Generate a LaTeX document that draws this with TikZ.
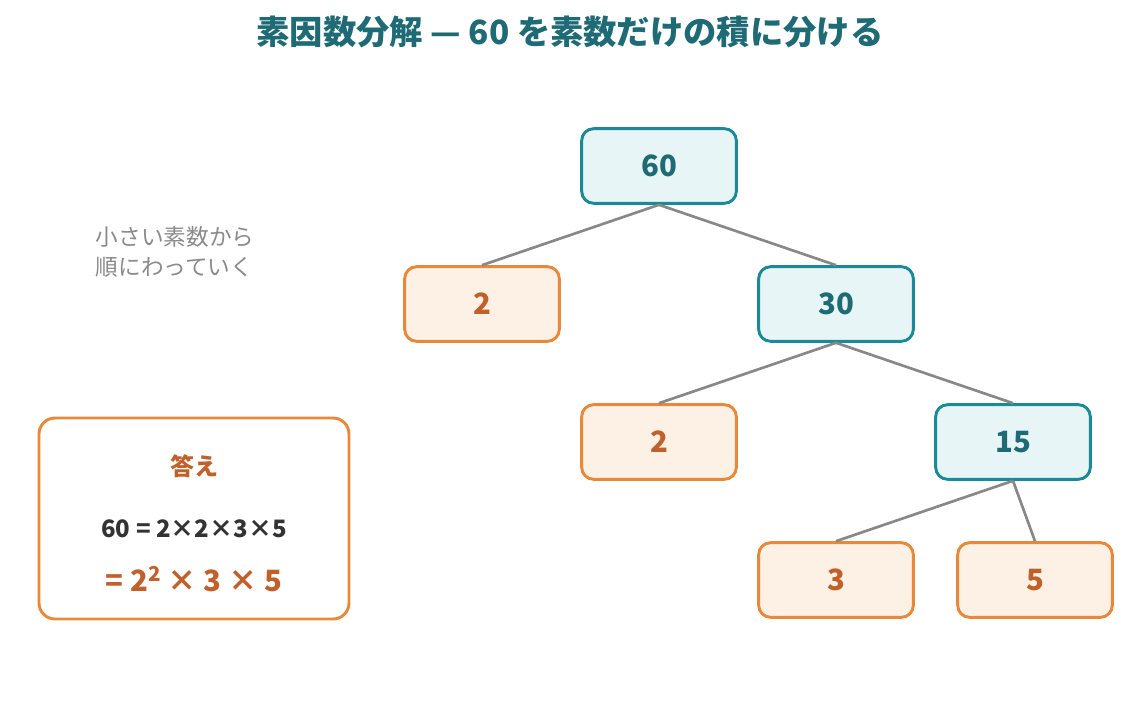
\documentclass[tikz,border=0pt]{standalone}
\usepackage{fontspec}
\setmainfont{Noto Sans CJK JP}
\newfontfamily\jpbold{Noto Sans CJK JP}[FakeBold=0]
\usetikzlibrary{positioning}
\definecolor{titleteal}{HTML}{1F6B75}
\definecolor{boxteal}{HTML}{1A8A96}
\definecolor{fillteal}{HTML}{E8F5F6}
\definecolor{boxorange}{HTML}{E8883A}
\definecolor{fillorange}{HTML}{FDF0E4}
\definecolor{textorange}{HTML}{C0602A}
\definecolor{edgegray}{HTML}{888888}
\definecolor{notegray}{HTML}{8A8A8A}
\definecolor{darktext}{HTML}{333333}
\tikzset{
  box/.style={rounded corners=9pt,line width=2.2pt,minimum width=116pt,minimum height=56pt,
    font=\fontsize{22}{24}\selectfont\bfseries},
  composite/.style={box,draw=boxteal,fill=fillteal,text=titleteal},
  prime/.style={box,draw=boxorange,fill=fillorange,text=textorange},
  branch/.style={draw=edgegray,line width=2pt}
}
\begin{document}
\begin{tikzpicture}[x=0.75pt,y=-0.75pt]
  \useasboundingbox (0,0) rectangle (1140,724);
  % title
  \node (title) at (570,32) {\fontsize{25}{28}\selectfont\bfseries\color{titleteal}素因数分解 — 60 を素数だけの積に分ける};

  % tree
  \node[composite] (n60) at (659,166) {60};
  \node[prime] (p2a) at (482,304) {2};
  \node[composite] (n30) at (836,304) {30};
  \node[prime] (p2b) at (659,442) {2};
  \node[composite] (n15) at (1013,442) {15};
  \node[prime] (p3) at (836,580) {3};
  \node[prime] (p5) at (1035,580) {5};

  \draw[branch] (n60.south) -- (p2a.north);
  \draw[branch] (n60.south) -- (n30.north);
  \draw[branch] (n30.south) -- (p2b.north);
  \draw[branch] (n30.south) -- (n15.north);
  \draw[branch] (n15.south) -- (p3.north);
  \draw[branch] (n15.south) -- (p5.north);

  % side note
  \node[anchor=west,align=left,text=notegray,font=\fontsize{17}{22}\selectfont] (hint) at (91,252)
    {小さい素数から\\順にわっていく};

  % answer box
  \draw[draw=boxorange,line width=2.2pt,rounded corners=12pt,fill=white] (39,418) rectangle (349,619);
  \node[text=textorange,font=\fontsize{18}{20}\selectfont\bfseries] (ansh) at (194,466) {答え};
  \node[text=darktext,font=\fontsize{18}{20}\selectfont\bfseries] (ans1) at (194,529) {60 = 2×2×3×5};
  \node[text=textorange,font=\fontsize{22}{24}\selectfont\bfseries] (ans2) at (194,579) {= 2\textsuperscript{2} × 3 × 5};
\end{tikzpicture}
\end{document}
